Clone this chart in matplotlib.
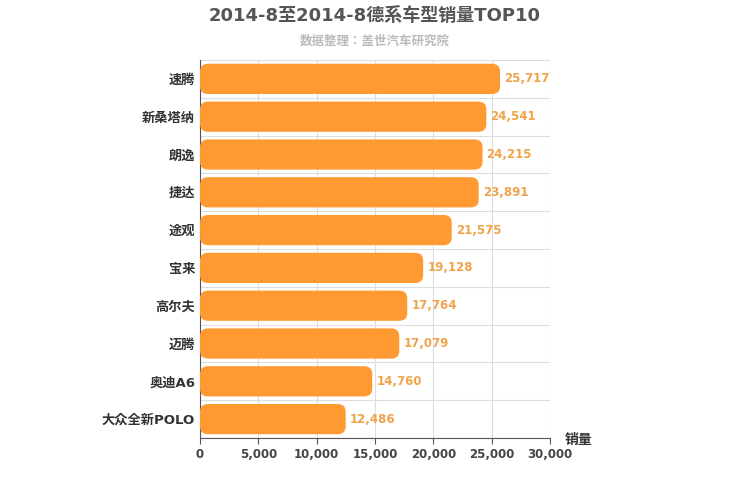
import matplotlib.pyplot as plt
from matplotlib.patches import FancyBboxPatch

plt.rcParams["font.family"] = ["DejaVu Sans", "Noto Sans CJK JP", "Noto Sans CJK SC"]

models = ["速腾", "新桑塔纳", "朗逸", "捷达", "途观", "宝来", "高尔夫", "迈腾", "奥迪A6", "大众全新POLO"]
sales = [25717, 24541, 24215, 23891, 21575, 19128, 17764, 17079, 14760, 12486]
xticks = [0, 5000, 10000, 15000, 20000, 25000, 30000]

fig = plt.figure(figsize=(7.5, 5), dpi=100)
ax = fig.add_axes([0.2667, 0.124, 0.4666, 0.756])

n = len(models)
ax.set_xlim(0, 30000)
ax.set_ylim(n - 0.5, -0.5)

bar_h = 0.8
rx = 700
ry = 0.2
for i, v in enumerate(sales):
    p = FancyBboxPatch((0, i - bar_h / 2), v, bar_h,
                       boxstyle=f"round,pad=0,rounding_size={rx}",
                       mutation_aspect=ry / rx,
                       facecolor="#ff9a33", edgecolor="none", zorder=3)
    ax.add_patch(p)
    ax.text(v + 350, i, f"{v:,}", va="center", ha="left", fontsize=8.5,
            fontweight="bold", color="#f0a34a", zorder=4)

ax.set_yticks(range(n))
ax.set_yticklabels(models, fontsize=9.5, fontweight="bold", color="#333333")
ax.set_yticks([i + 0.5 for i in range(-1, n)], minor=True)
ax.tick_params(axis="y", which="both", length=0)
ax.set_xticks(xticks)
ax.set_xticklabels([f"{t:,}" for t in xticks], fontsize=8.5, fontweight="bold", color="#444444")
ax.tick_params(axis="x", length=4, color="#555555")

ax.grid(axis="x", color="#dddddd", linewidth=0.8, zorder=0)
ax.grid(axis="y", which="minor", color="#dddddd", linewidth=0.8, zorder=0)

for s in ["top", "right"]:
    ax.spines[s].set_visible(False)
ax.spines["left"].set_color("#555555")
ax.spines["bottom"].set_color("#555555")

fig.text(0.5, 0.968, "2014-8至2014-8德系车型销量TOP10", ha="center", va="center",
         fontsize=13, fontweight="bold", color="#555555")
fig.text(0.5, 0.918, "数据整理：盖世汽车研究院", ha="center", va="center",
         fontsize=9, fontweight="bold", color="#bbbbbb")
fig.text(0.753, 0.12, "销量", ha="left", va="center", fontsize=10,
         fontweight="bold", color="#333333")

fig.savefig("out.png", dpi=100)
